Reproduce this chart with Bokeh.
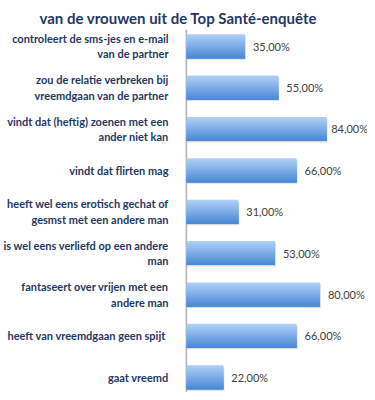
from bokeh.plotting import figure
from bokeh.models import Range1d, FixedTicker, ColumnDataSource, Title
from bokeh.core.properties import value
from bokeh.embed import file_html
from bokeh.resources import INLINE

title_text = "van de vrouwen uit de Top Santé-enquête"
categories = [
    "controleert de sms-jes en e-mail\nvan de partner",
    "zou de relatie verbreken bij\nvreemdgaan van de partner",
    "vindt dat (heftig) zoenen met een\nander niet kan",
    "vindt dat flirten mag",
    "heeft wel eens erotisch gechat of\ngesmst met een andere man",
    "is wel eens verliefd op een andere\nman",
    "fantaseert over vrijen met een\nandere man",
    "heeft van vreemdgaan  geen spijt",
    "gaat vreemd",
]
values = [35, 55, 84, 66, 31, 53, 80, 66, 22]
value_labels = ["35,00%", "55,00%", "84,00%", "66,00%", "31,00%",
                "53,00%", "80,00%", "66,00%", "22,00%"]

W, H = 367, 392
n = len(categories)
ypos = list(range(n))

p = figure(width=W, height=H, output_backend="svg", toolbar_location=None,
           x_range=Range1d(-0.7, 108.6), y_range=Range1d(n - 0.63, -0.5),
           x_axis_location=None, min_border_left=178, min_border_right=0,
           min_border_top=25, min_border_bottom=0)
p.outline_line_color = None
p.xgrid.visible = False
p.ygrid.visible = False
p.background_fill_color = "white"
p.border_fill_color = "white"

# axis line
p.segment(x0=[-0.3], x1=[-0.3], y0=[-0.4], y1=[n],
          line_color="#b4b4b4", line_width=2)

# shadow
bar_h = 0.58
p.hbar(y=[y + 0.035 for y in ypos], left=0, right=[v + 0.6 for v in values],
       height=bar_h, color="#9a9a9a", alpha=0.35, line_color=None)

# gradient bars made of overlapping strips (each runs to the bar bottom)
top = (0xAD, 0xCE, 0xF7)
bot = (0x4C, 0x8A, 0xD6)
ns = 14
for k in range(ns):
    t = k / (ns - 1)
    c = "#%02x%02x%02x" % tuple(int(round(a + (b - a) * t)) for a, b in zip(top, bot))
    s_top = -bar_h / 2 + k * bar_h / ns
    s_bot = bar_h / 2
    p.hbar(y=[y + (s_top + s_bot) / 2 for y in ypos], left=0, right=values,
           height=s_bot - s_top, color=c, line_color=None)

# value labels
src = ColumnDataSource(dict(x=[min(v, 82) for v in values], y=ypos, t=value_labels))
p.text(x="x", y="y", text="t", source=src, x_offset=8, text_baseline="middle",
       text_align="left", text_font=value("Lato"), text_font_size="11px",
       text_color="#404040")

# category labels on the y axis
yax = p.yaxis[0]
yax.ticker = FixedTicker(ticks=ypos)
yax.major_label_overrides = {i: c for i, c in enumerate(categories)}
yax.major_tick_line_color = None
yax.minor_tick_line_color = None
yax.axis_line_color = None
yax.major_label_standoff = 11
yax.major_label_text_font = "Lato"
yax.major_label_text_font_style = "bold"
yax.major_label_text_font_size = "11px"
yax.major_label_text_color = "#1F3864"

p.title = Title(text=title_text, align="left", offset=-146, standoff=-3,
                vertical_align="bottom",
                text_font="Lato", text_font_style="bold", text_font_size="15px",
                text_color="#1F3864")

open("out.html", "w").write(file_html(p, INLINE))
